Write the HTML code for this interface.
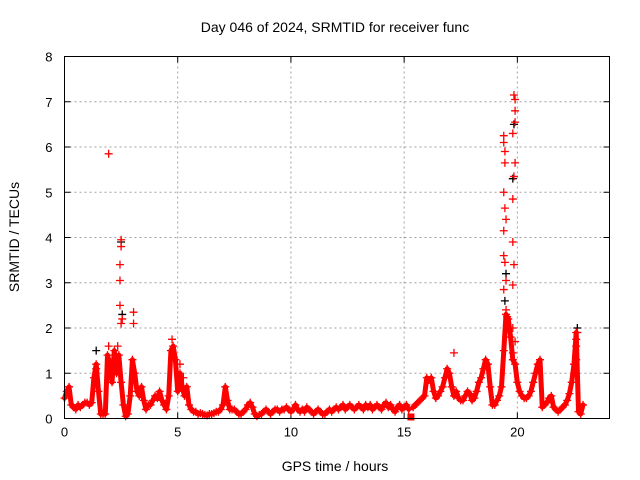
<!DOCTYPE html>
<html><head><meta charset="utf-8">
<style>
body{margin:0;background:#fff;}
svg{display:block;font-family:"Liberation Sans",sans-serif;}
</style></head>
<body>
<svg id="chart" width="640" height="480" viewBox="0 0 640 480">
<text x="335" y="32" font-size="14" text-anchor="middle">Day 046 of 2024, SRMTID for receiver func</text>
<text x="335" y="471" font-size="14" text-anchor="middle">GPS time / hours</text>
<text transform="translate(19,237) rotate(-90)" font-size="14" text-anchor="middle">SRMTID / TECUs</text>
<g id="grid"></g><g id="ticks"></g><g id="marks"></g>
<rect x="64.5" y="56.5" width="545" height="362" fill="none" stroke="#000" stroke-width="1"/>
</svg>
<script>
const xTicks=[0,5,10,15,20];
const yTicks=[0,1,2,3,4,5,6,7,8];
const baseStart=0, baseStep=0.1;
const baseValues=[
0.45,0.6,0.7,0.3,0.25,0.2,0.3,0.25,0.3,0.35,
0.35,0.3,0.35,0.9,1.2,0.6,0.1,0.1,0.1,1.4,
1.2,0.8,1.5,1.0,1.4,0.8,0.3,0.05,0.1,0.5,
1.3,1.0,0.6,0.5,0.7,0.4,0.2,0.3,0.3,0.4,
0.5,0.45,0.6,0.4,0.3,0.2,0.5,1.5,1.6,1.3,
0.6,1.0,0.7,0.5,0.7,0.3,0.2,0.15,0.15,0.1,
0.12,0.1,0.08,0.07,0.1,0.1,0.12,0.15,0.15,0.2,
0.3,0.7,0.4,0.2,0.2,0.2,0.15,0.1,0.1,0.15,
0.2,0.3,0.35,0.25,0.1,0.05,0.08,0.1,0.15,0.2,
0.15,0.1,0.15,0.2,0.2,0.15,0.2,0.2,0.25,0.2,
0.15,0.2,0.3,0.2,0.15,0.2,0.15,0.25,0.2,0.15,
0.1,0.15,0.2,0.15,0.1,0.1,0.15,0.2,0.15,0.2,
0.25,0.2,0.25,0.3,0.2,0.25,0.3,0.25,0.2,0.25,
0.3,0.25,0.2,0.3,0.25,0.3,0.2,0.25,0.3,0.25,
0.2,0.3,0.35,0.25,0.3,0.2,0.15,0.25,0.3,0.2,
0.25,0.3,0.2,0.0,0.25,0.3,0.35,0.4,0.45,0.5,
0.9,0.85,0.9,0.6,0.45,0.5,0.6,0.7,0.9,1.1,
1.0,0.7,0.5,0.6,0.45,0.4,0.4,0.5,0.6,0.55,
0.4,0.45,0.6,0.8,0.9,1.1,1.3,1.2,0.7,0.3,
0.3,0.4,0.5,0.7,1.5,2.3,2.2,1.8,1.3,1.2,
0.8,0.6,0.5,0.45,0.45,0.5,0.6,0.8,1.0,1.2,
1.3,0.25,0.3,0.35,0.45,0.5,0.25,0.2,0.15,0.2,
0.25,0.3,0.4,0.55,0.8,1.2,1.9,0.15,0.1,0.3];
const spikeTimes=[1.95,2.5,2.5,2.45,2.45,2.45,2.5,2.55,3.05,3.05,2.35,2.3,1.95,1.4,4.75,5.1,5.25,
19.4,19.4,19.45,19.45,19.4,19.45,19.5,19.4,19.4,19.45,19.5,19.4,19.5,19.55,
19.85,19.9,19.9,19.9,19.8,19.9,19.85,19.8,19.8,19.85,19.8,19.8,19.9,19.8,17.2,22.6,22.6,22.6,22.65];
const spikeValues=[5.85,3.95,3.8,3.4,3.05,2.5,2.1,2.2,2.35,2.1,1.6,1.2,1.6,1.1,1.75,1.2,0.9,
6.25,6.1,5.9,5.65,5.0,4.65,4.4,4.15,3.6,3.45,3.05,2.85,2.4,2.25,
7.15,7.05,6.8,6.55,6.3,5.65,5.35,4.85,3.9,3.4,2.95,2.0,1.7,1.45,1.45,1.75,1.6,1.3,1.9];
const blackTimes=[2.5,19.85,19.8,19.5,1.4,22.65,2.55,19.45,5.1];
const blackValues=[3.9,6.5,5.3,3.2,1.5,2.0,2.3,2.6,0.8];

const X0=64.5,X1=609.5,Y0=418.5,Y1=56.5,XMAX=24.07,YMAX=8;
const xs=t=>X0+(X1-X0)*t/XMAX;
const ys=v=>Y0-(Y0-Y1)*v/YMAX;
const NS="http://www.w3.org/2000/svg";
function mk(tag,attrs,parent){const e=document.createElementNS(NS,tag);for(const k in attrs)e.setAttribute(k,attrs[k]);parent.appendChild(e);return e;}
const grid=document.getElementById('grid'),ticks=document.getElementById('ticks'),marks=document.getElementById('marks');
xTicks.forEach(t=>{const x=xs(t);
 if(t>0){const g=mk('line',{x1:x,x2:x,y1:Y0,y2:Y1,stroke:'#a0a0a0','stroke-dasharray':'2,3'},grid);
 
 }
 mk('line',{x1:x,x2:x,y1:Y0,y2:Y0-6,stroke:'#000'},ticks);
 mk('line',{x1:x,x2:x,y1:Y1,y2:Y1+6,stroke:'#000'},ticks);
 const l=mk('text',{x:x,y:Y0+18,'font-size':13,'text-anchor':'middle'},ticks);l.textContent=t;
 
 });
yTicks.forEach(v=>{const y=ys(v);
 if(v>0&&v<8){const g=mk('line',{x1:X0,x2:X1,y1:y,y2:y,stroke:'#a0a0a0','stroke-dasharray':'2,3'},grid);
 
 }
 mk('line',{x1:X0,x2:X0+6,y1:y,y2:y,stroke:'#000'},ticks);
 mk('line',{x1:X1,x2:X1-6,y1:y,y2:y,stroke:'#000'},ticks);
 const l=mk('text',{x:X0-12,y:y+5,'font-size':13,'text-anchor':'end'},ticks);l.textContent=v;
 
 });
function plus(t,v,col,name){const x=xs(t),y=ys(v);
 const p=mk('path',{d:`M${x-4},${y}H${x+4}M${x},${y-4}V${y+4}`,stroke:col,'stroke-width':1.3,fill:'none'},marks);
 
 }
blackTimes.forEach((t,i)=>plus(t,blackValues[i],'#000','black-point'));
// dense band through the sampled baseline
let segs=[];let cur=[];
baseValues.forEach((v,i)=>{const t=baseStart+i*baseStep;
 if(v===0){if(cur.length)segs.push(cur);cur=[];}else cur.push(xs(t).toFixed(1)+','+ys(v).toFixed(1));});
if(cur.length)segs.push(cur);
segs.forEach(s=>{const pl=mk('polyline',{points:s.join(' '),fill:'none',stroke:'#f00','stroke-width':5,'stroke-linejoin':'round','stroke-linecap':'round'},marks);
 
 });
baseValues.forEach((v,i)=>{const t=baseStart+i*baseStep;
 if(v===0){const r=mk('rect',{x:xs(t)-3.5,y:ys(0)-5,width:7,height:7,fill:'#f00'},marks);
 
 }
 else plus(t,v,'#f00','red-point');});
spikeTimes.forEach((t,i)=>plus(t,spikeValues[i],'#f00','spike-point'));
</script>
</body></html>
